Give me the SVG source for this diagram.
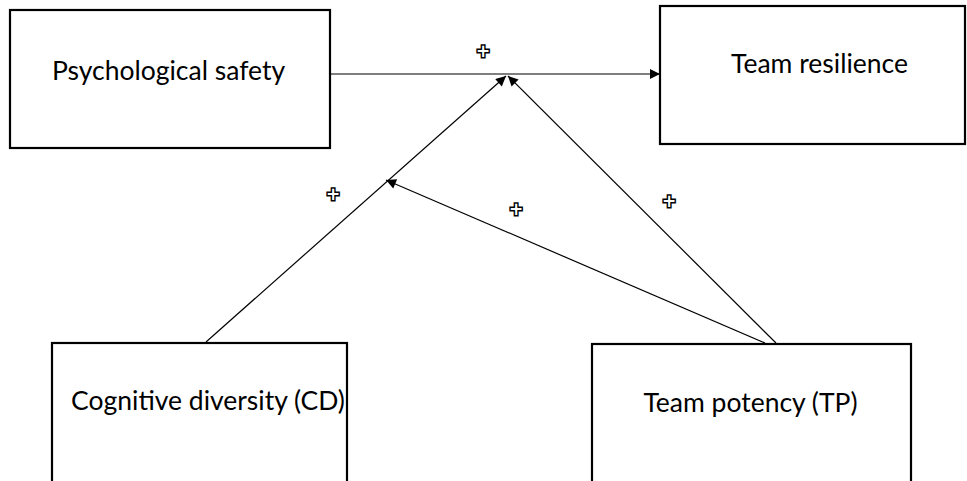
<svg xmlns="http://www.w3.org/2000/svg" width="967" height="481" viewBox="0 0 967 481">
<style>
.box{fill:#fff;stroke:#000;stroke-width:2.2}
.lbl{font-family:Lato,"Open Sans",sans-serif;font-size:26.5px;fill:#000;text-anchor:middle}
.con{stroke:#000;stroke-width:1.2;fill:none;marker-end:url(#ah)}
.plus{font-family:"DejaVu Sans",sans-serif;font-weight:bold;font-size:17px;fill:#fff;stroke:#000;stroke-width:3;paint-order:stroke;stroke-linejoin:miter;text-anchor:middle}
</style>
<defs>
<marker id="ah" viewBox="0 0 10 10" refX="10" refY="5" markerWidth="12" markerHeight="10" markerUnits="userSpaceOnUse" orient="auto">
<path d="M0,0 L10,5 L0,10 Z" fill="#000"/>
</marker>
</defs>
<rect width="967" height="481" fill="#fff"/>
<g id="connectors">
<line class="con" x1="331" y1="74" x2="660" y2="74"/>
<line class="con" x1="206" y1="342" x2="506" y2="76"/>
<line class="con" x1="776" y1="343" x2="508" y2="76"/>
<line class="con" x1="765" y1="343" x2="386" y2="180"/>
</g>
<g id="node-ps"><rect class="box" x="10" y="10" width="320" height="138"/><text class="lbl" x="168.5" y="80">Psychological safety</text></g>
<g id="node-tr"><rect class="box" x="660" y="6" width="305" height="138"/><text class="lbl" x="819.5" y="73">Team resilience</text></g>
<g id="node-cd"><rect class="box" x="52" y="343" width="295" height="150"/><text class="lbl" x="208" y="410">Cognitive diversity (CD)</text></g>
<g id="node-tp"><rect class="box" x="592" y="344" width="319" height="150"/><text class="lbl" x="750.5" y="412">Team potency (TP)</text></g>
<g id="labels">
<text class="plus" x="483" y="57">+</text>
<text class="plus" x="333" y="200">+</text>
<text class="plus" x="516" y="215">+</text>
<text class="plus" x="669" y="207">+</text>
</g>
</svg>
